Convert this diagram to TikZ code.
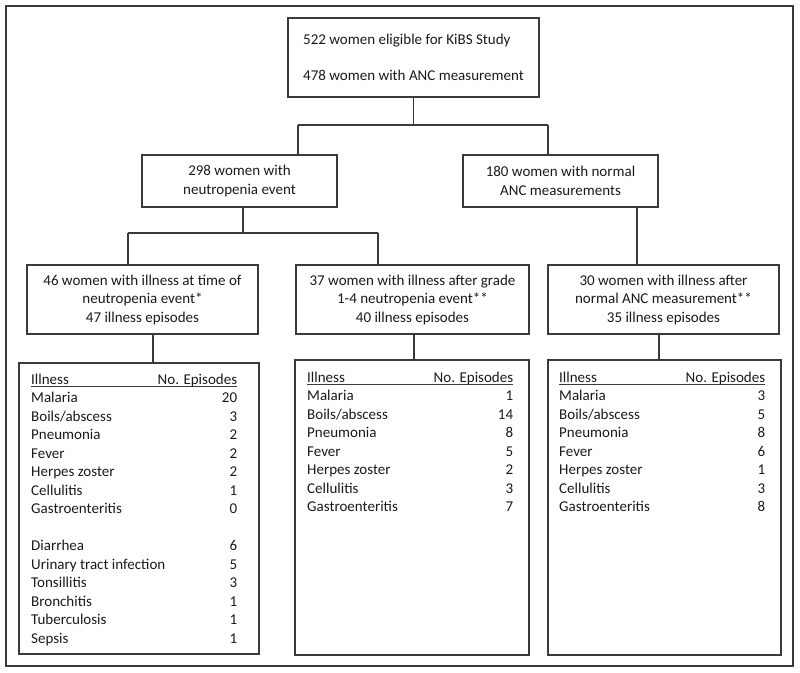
\documentclass[tikz,border=0pt]{standalone}
\usepackage{fontspec}
\setmainfont{Carlito}
\usepackage{array}
\definecolor{lnc}{HTML}{3A3A3A}
\definecolor{txc}{HTML}{1A1A1A}
\begin{document}
\begin{tikzpicture}[x=1pt,y=-1pt,
  every node/.style={font=\fontsize{15}{18.5}\selectfont, text=txc},
  box/.style={draw=lnc, line width=1.2pt, rectangle, inner sep=0pt, align=center},
  tabbox/.style={draw=lnc, line width=1.2pt, rectangle, inner sep=0pt},
  tabtext/.style={inner sep=0pt, anchor=base west},
  conn/.style={draw=lnc, line width=1.2pt},
  frame/.style={draw=lnc, line width=1.3pt}]
\useasboundingbox (0,0) rectangle (800,672);
\node[frame, rectangle, minimum width=787pt, minimum height=660pt, inner sep=0pt] (outer) at (399.5,336) {};

% boxes
\node[box, align=left, minimum width=251pt, minimum height=79pt] (top) at (413.5,57.5)
  {522 women eligible for KiBS Study\\[17.5pt]478 women with ANC measurement};
\node[box, minimum width=195pt, minimum height=52pt] (b298) at (239.5,181)
  {298 women with\\neutropenia event};
\node[box, minimum width=195pt, minimum height=52pt] (b180) at (560.5,181)
  {180 women with normal\\ANC measurements};
\node[box, minimum width=231pt, minimum height=69pt] (b46) at (142.5,299.5)
  {46 women with illness at time of\\neutropenia event*\\47 illness episodes};
\node[box, minimum width=233pt, minimum height=69pt] (b37) at (412.5,299.5)
  {37 women with illness after grade\\1-4 neutropenia event**\\40 illness episodes};
\node[box, minimum width=231pt, minimum height=69pt] (b30) at (663.5,299.5)
  {30 women with illness after\\normal ANC measurement**\\35 illness episodes};

% table boxes
\node[tabbox, minimum width=240pt, minimum height=291pt] (t1) at (139,508.5) {};
\node[tabbox, minimum width=234pt, minimum height=295pt] (t2) at (412,507.5) {};
\node[tabbox, minimum width=233pt, minimum height=295pt] (t3) at (664.5,507.5) {};

\newcommand{\hdrrow}{\multicolumn{2}{@{}l@{}}{\makebox[206pt][l]{\rlap{\color{lnc}\rule[-3pt]{206pt}{0.9pt}}Illness\hfill No. Episodes}}\\}
\node[tabtext] (tt1) at (31,384) {\begin{tabular*}{206pt}[t]{@{\extracolsep{\fill}}l@{}r@{}}
\hdrrow
Malaria & 20\\
Boils/abscess & 3\\
Pneumonia & 2\\
Fever & 2\\
Herpes zoster & 2\\
Cellulitis & 1\\
Gastroenteritis & 0\\
 & \\
Diarrhea & 6\\
Urinary tract infection & 5\\
Tonsillitis & 3\\
Bronchitis & 1\\
Tuberculosis & 1\\
Sepsis & 1
\end{tabular*}};
\node[tabtext] (tt2) at (307,382) {\begin{tabular*}{206pt}[t]{@{\extracolsep{\fill}}l@{}r@{}}
\hdrrow
Malaria & 1\\
Boils/abscess & 14\\
Pneumonia & 8\\
Fever & 5\\
Herpes zoster & 2\\
Cellulitis & 3\\
Gastroenteritis & 7
\end{tabular*}};
\node[tabtext] (tt3) at (559,382) {\begin{tabular*}{206pt}[t]{@{\extracolsep{\fill}}l@{}r@{}}
\hdrrow
Malaria & 3\\
Boils/abscess & 5\\
Pneumonia & 8\\
Fever & 6\\
Herpes zoster & 1\\
Cellulitis & 3\\
Gastroenteritis & 8
\end{tabular*}};

% junction coordinates
\coordinate (jA) at (413.5,125);
\coordinate (jAL) at (298,125);
\coordinate (jAR) at (548,125);
\coordinate (jB) at (243,233);
\coordinate (jBL) at (128,233);
\coordinate (jBR) at (378,233);

% connectors
\draw[conn] (top.south) -- (jA);
\draw[conn] (jAL) -- (jAR);
\draw[conn] (jAL) -- (jAL |- b298.north);
\draw[conn] (jAR) -- (jAR |- b180.north);
\draw[conn] (b298.south -| jB) -- (jB);
\draw[conn] (jBL) -- (jBR);
\draw[conn] (jBL) -- (jBL |- b46.north);
\draw[conn] (jBR) -- (jBR |- b37.north);
\draw[conn] (b180.south -| 637,0) -- (b30.north -| 637,0);
\draw[conn] (b46.south -| 153,0) -- (t1.north -| 153,0);
\draw[conn] (b37.south -| 414,0) -- (t2.north -| 414,0);
\draw[conn] (b30.south -| 659,0) -- (t3.north -| 659,0);
\end{tikzpicture}
\end{document}
